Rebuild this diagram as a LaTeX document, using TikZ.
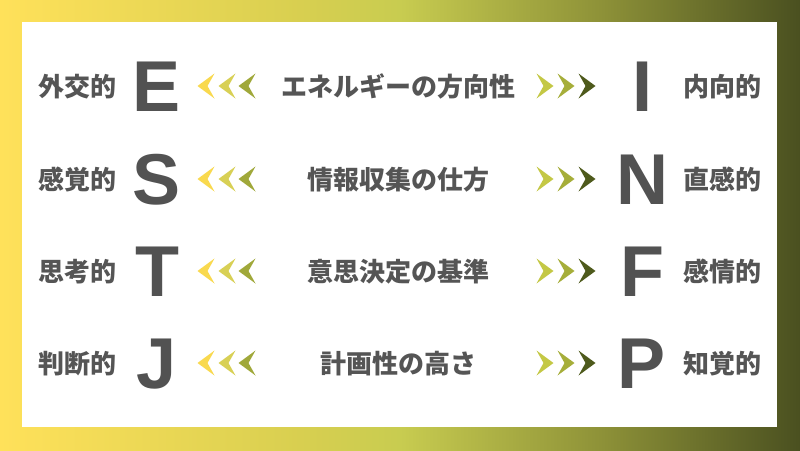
\documentclass[tikz,border=0pt]{standalone}
\usepackage{fontspec}
\newfontfamily\jpfont{Noto Sans CJK JP}
\newfontfamily\bigfont{Liberation Sans}
\usetikzlibrary{positioning}
\definecolor{bgA}{HTML}{FFE15A}
\definecolor{bgAB}{HTML}{D8CF50}
\definecolor{bgB}{HTML}{C8CC50}
\definecolor{bgBC}{HTML}{8E9238}
\definecolor{bgC}{HTML}{4A5020}
\definecolor{txtgray}{HTML}{555555}
\definecolor{ltrgray}{HTML}{525252}
\definecolor{chlA}{HTML}{F9D94E}
\definecolor{chlB}{HTML}{D8D055}
\definecolor{chlC}{HTML}{A0A83A}
\definecolor{chrA}{HTML}{C4C845}
\definecolor{chrB}{HTML}{A6AE3A}
\definecolor{chrC}{HTML}{4E5A1C}
\pgfdeclarehorizontalshading{bgshade}{100bp}{
  color(0bp)=(bgA); color(25bp)=(bgA); color(43.75bp)=(bgAB);
  color(50bp)=(bgB); color(62.5bp)=(bgBC); color(75bp)=(bgC); color(100bp)=(bgC)}
% chevron: sign<colour>(centre);
\def\chev#1<#2>(#3);{
   \fill[#2, shift={(#3)}, xscale=#1]
      (-8.5,0) -- (8.5,-12.5) -- (1.5,0) -- (8.5,12.5) -- cycle; }
\tikzset{
  mbti scheme/.style = {
    x = 1pt, y = -1pt,
    % Japanese labels
    lbl/.style = {font=\jpfont\bfseries\fontsize{26}{26}\selectfont,
                  text=txtgray, anchor=base, inner sep=0pt},
    % big letters
    ltr/.style = {font=\bigfont\bfseries\fontsize{72}{72}\selectfont,
                  text=ltrgray, anchor=base, inner sep=0pt},
  },
}
\begin{document}
\begin{tikzpicture}[mbti scheme]
  \path[use as bounding box] (0,0) rectangle (800,450);
  \shade[shading=bgshade] (0,0) rectangle (800,450);
  \fill[white] (22,22) rectangle (777,427);

  \foreach \y/\lt/\ll/\mi/\rl/\rt [count=\i] in {
      86/外交的/E/エネルギーの方向性/I/内向的,
      179/感覚的/S/情報収集の仕方/N/直感的,
      271/思考的/T/意思決定の基準/F/感情的,
      363/判断的/J/計画性の高さ/P/知覚的} {
    \node[lbl] (lt-\i)  at (77,\y+10)  {\lt};
    \node[ltr] (ll-\i)  at (157,\y+25) {\ll};
    \node[lbl] (mid-\i) at (398,\y+10) {\mi};
    \node[ltr] (rl-\i)  at (642,\y+25) {\rl};
    \node[lbl] (rt-\i)  at (722,\y+10) {\rt};
    \foreach \cx/\cc in {206/chlA,227/chlB,247/chlC} {\chev 1<\cc>(\cx,\y);}
    \foreach \cx/\cc in {545/chrA,566/chrB,587/chrC} {\chev -1<\cc>(\cx,\y);}
  }
\end{tikzpicture}
\end{document}
